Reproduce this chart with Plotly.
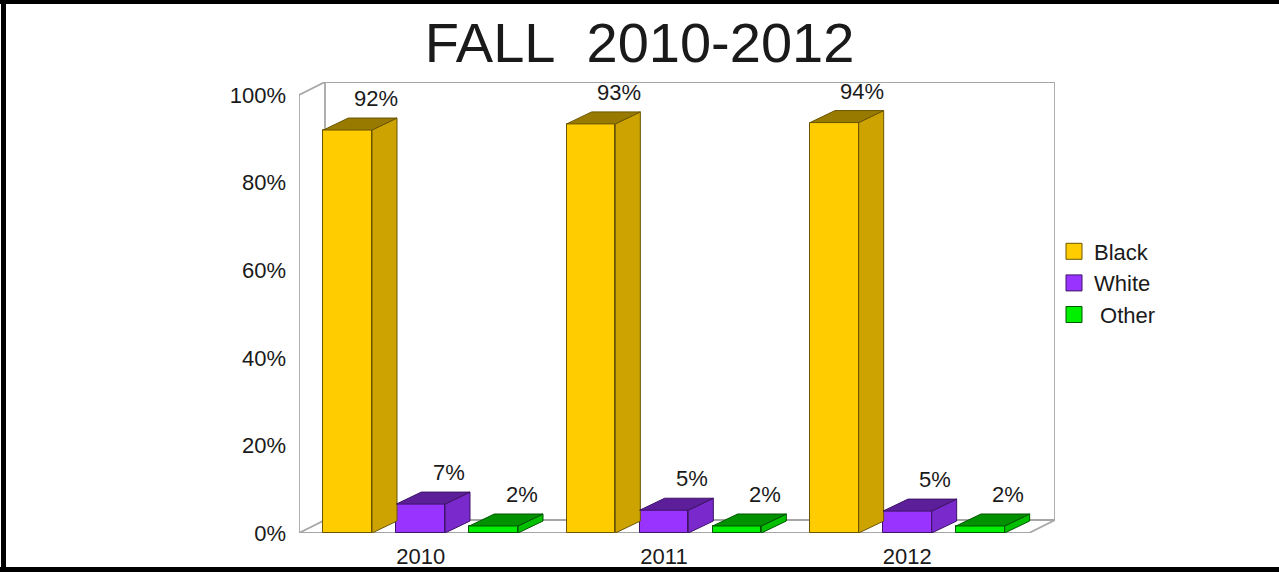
import plotly.graph_objects as go

# ---------------- data ----------------
years = ["2010", "2011", "2012"]
series_names = ["Black", "White", "\u00a0Other"]
black = [92.0, 93.4, 93.7]
white = [6.6, 5.2, 5.0]
other = [1.6, 1.6, 1.6]
y_tick_vals = [0, 20, 40, 60, 80, 100]
y_tick_text = ["0%", "20%", "40%", "60%", "80%", "100%"]
title_text = "FALL\u00a0\u00a02010-2012"

# ---------------- styling ----------------
front_colors = ["#FFCC00", "#9933FF", "#00F000"]
side_colors = ["#CCA300", "#7A29CC", "#00C000"]
top_colors = ["#997A00", "#5C1F99", "#009000"]
edge_colors = ["#6B5500", "#3D1466", "#005500"]
FONT = "Liberation Sans, Arial, sans-serif"
TXT = "#1a1a1a"

W, H = 1279, 572
ML, MR, MT, MB = 299, 224, 82, 39
plot_w = W - ML - MR
plot_h = H - MT - MB
WALL_DX_PX, WALL_DY_PX = 26, 13
BAR_DX_PX, BAR_DY_PX = 25, 12
LABEL_DX_PX = 28
n_groups = len(years)
px_x = (plot_w - WALL_DX_PX) / n_groups
y_top = 100.0
px_y = (plot_h - WALL_DY_PX) / y_top
x_max = plot_w / px_x
y_max = plot_h / px_y
wdx, wdy = WALL_DX_PX / px_x, WALL_DY_PX / px_y
bdx, bdy = BAR_DX_PX / px_x, BAR_DY_PX / px_y
bar_w = 0.2
offsets = [-0.3, 0.0, 0.3]

fig = go.Figure()

series = [black, white, other]
for k, vals in enumerate(series):
    xs = [i + 0.5 + offsets[k] for i in range(n_groups)]
    # front faces (real bars)
    fig.add_trace(go.Bar(
        x=xs, y=vals, width=bar_w, name=series_names[k],
        marker=dict(color=front_colors[k], line=dict(color=edge_colors[k], width=1)),
        showlegend=False,
    ))
    # side & top faces derived from the same values
    for x, v in zip(xs, vals):
        xr = x + bar_w / 2
        xl = x - bar_w / 2
        fig.add_trace(go.Scatter(
            x=[xr, xr, xr + bdx, xr + bdx, xr], y=[0, v, v + bdy, bdy, 0],
            mode="lines", fill="toself", fillcolor=side_colors[k],
            line=dict(color=edge_colors[k], width=1), showlegend=False, hoverinfo="skip"))
        fig.add_trace(go.Scatter(
            x=[xl, xr, xr + bdx, xl + bdx, xl], y=[v, v, v + bdy, v + bdy, v],
            mode="lines", fill="toself", fillcolor=top_colors[k],
            line=dict(color=edge_colors[k], width=1), showlegend=False, hoverinfo="skip"))
        fig.add_annotation(
            x=x + LABEL_DX_PX / px_x, y=v + bdy, text=f"{round(v)}%", showarrow=False,
            yanchor="bottom", yshift=5, font=dict(family=FONT, size=22, color=TXT))

# legend entries (square swatches)
for k in range(len(series)):
    fig.add_trace(go.Scatter(
        x=[None], y=[None], mode="markers", name=series_names[k],
        marker=dict(symbol="square", size=16, color=front_colors[k],
                    line=dict(color=edge_colors[k], width=1)),
        showlegend=True, legendrank=k))

# walls / floor
gray = "#A6A6A6"
wall_lines = [
    (0, 0, 0, y_top), (0, y_top, wdx, y_top + wdy), (0, 0, wdx, wdy),
    (wdx, wdy, wdx, y_top + wdy), (wdx, y_top + wdy, n_groups + wdx, y_top + wdy),
    (n_groups + wdx, y_top + wdy, n_groups + wdx, wdy), (wdx, wdy, n_groups + wdx, wdy),
    (0, 0, n_groups, 0), (n_groups, 0, n_groups + wdx, wdy),
]
for x0, y0, x1, y1 in wall_lines:
    fig.add_shape(type="line", x0=x0, y0=y0, x1=x1, y1=y1, xref="x", yref="y",
                  line=dict(color=gray, width=1.8), layer="below")

# black frame around the picture
def px2paper_x(px):
    return (px - ML) / plot_w

def px2paper_y(py):
    return (H - MB - py) / plot_h

frame = [(0, 0, W, 4), (1, 0, 6, H), (0, 567, W, H)]
for x0, y0, x1, y1 in frame:
    fig.add_shape(type="rect", xref="paper", yref="paper",
                  x0=px2paper_x(x0), x1=px2paper_x(x1), y0=px2paper_y(y1), y1=px2paper_y(y0),
                  fillcolor="black", line=dict(width=0), layer="above")

fig.update_layout(
    width=W, height=H,
    margin=dict(l=ML, r=MR, t=MT, b=MB, autoexpand=False),
    paper_bgcolor="white", plot_bgcolor="white",
    title=dict(text=title_text, x=0.5, xref="container", y=1 - 42 / H, yref="container",
               xanchor="center", yanchor="middle",
               font=dict(family=FONT, size=56, color=TXT)),
    showlegend=True,
    legend=dict(x=px2paper_x(1054), y=px2paper_y(283), xanchor="left", yanchor="middle",
                font=dict(family=FONT, size=22, color=TXT), bgcolor="rgba(0,0,0,0)",
                tracegroupgap=0, itemwidth=30, itemsizing="trace"),
    xaxis=dict(range=[0, x_max], tickvals=[i + 0.5 for i in range(n_groups)], ticktext=years,
               showgrid=False, zeroline=False, showline=False, ticks="",
               ticklabelstandoff=8,
               tickfont=dict(family=FONT, size=22, color=TXT), automargin=False,
               fixedrange=True),
    yaxis=dict(range=[0, y_max], tickvals=y_tick_vals, ticktext=y_tick_text,
               showgrid=False, zeroline=False, showline=False, ticks="",
               ticklabelstandoff=12,
               tickfont=dict(family=FONT, size=22, color=TXT), automargin=False,
               fixedrange=True),
    bargap=0, font=dict(family=FONT),
)

fig.write_html("out.html", config={"displayModeBar": False},
               post_script="document.body.style.margin='0';document.body.style.overflow='hidden';")
